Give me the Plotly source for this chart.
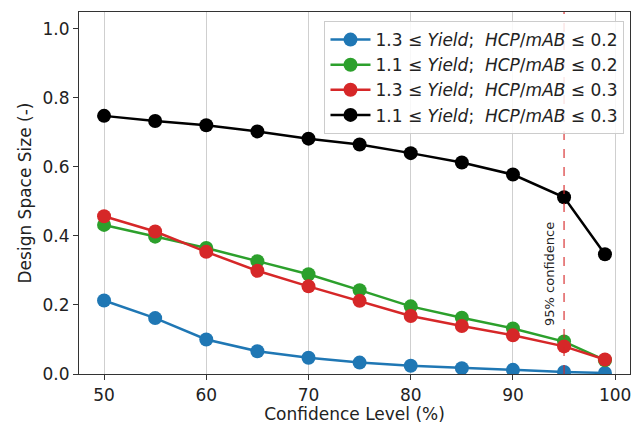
import plotly.graph_objects as go

confidence = [50, 55, 60, 65, 70, 75, 80, 85, 90, 95, 99]
blue_vals = [0.213, 0.162, 0.100, 0.066, 0.047, 0.033, 0.024, 0.017, 0.012, 0.006, 0.003]
green_vals = [0.432, 0.398, 0.365, 0.327, 0.289, 0.243, 0.196, 0.163, 0.132, 0.094, 0.040]
red_vals = [0.457, 0.413, 0.354, 0.299, 0.254, 0.212, 0.168, 0.139, 0.112, 0.080, 0.042]
black_vals = [0.748, 0.733, 0.721, 0.703, 0.682, 0.665, 0.640, 0.613, 0.578, 0.512, 0.347]
labels = [
    "1.3 ≤ <i>Yield</i>;  <i>HCP</i>/<i>mAB</i> ≤ 0.2",
    "1.1 ≤ <i>Yield</i>;  <i>HCP</i>/<i>mAB</i> ≤ 0.2",
    "1.3 ≤ <i>Yield</i>;  <i>HCP</i>/<i>mAB</i> ≤ 0.3",
    "1.1 ≤ <i>Yield</i>;  <i>HCP</i>/<i>mAB</i> ≤ 0.3",
]
colors = ["#1f77b4", "#2ca02c", "#d62728", "#000000"]
vline_x = 95
vline_label = "95% confidence"

fig = go.Figure()
for vals, lab, col in zip([blue_vals, green_vals, red_vals, black_vals], labels, colors):
    fig.add_trace(go.Scatter(
        x=confidence, y=vals, name=lab, mode="lines+markers",
        line=dict(color=col, width=2.5),
        marker=dict(color=col, size=14),
    ))

fig.add_vline(x=vline_x, line=dict(color="rgba(214,39,40,0.75)", width=1.5, dash="dash"))
fig.add_annotation(x=vline_x, y=0.29, xref="x", yref="y", text=vline_label,
                   textangle=-90, showarrow=False, xshift=-14,
                   font=dict(size=13, color="#222"))

axis_common = dict(
    showline=True, linecolor="#333", linewidth=1.2, mirror=True,
    ticks="outside", ticklen=5, tickcolor="#333", tickwidth=1.2,
    tickfont=dict(size=17, color="#222"), zeroline=False,
)
fig.update_xaxes(range=[47.55, 101.45], tickvals=[50, 60, 70, 80, 90, 100],
                 showgrid=True, gridcolor="#cfcfcf", gridwidth=1,
                 title=dict(text="Confidence Level (%)", font=dict(size=17, color="#222"), standoff=4),
                 **axis_common)
fig.update_yaxes(range=[0, 1.049], tickvals=[0, 0.2, 0.4, 0.6, 0.8, 1.0], tickformat=".1f",
                 showgrid=False,
                 title=dict(text="Design Space Size (-)", font=dict(size=17, color="#222"), standoff=6),
                 **axis_common)

fig.update_layout(
    width=644, height=431,
    margin=dict(l=79, r=14, t=11, b=54),
    plot_bgcolor="white", paper_bgcolor="white",
    font=dict(family="DejaVu Sans", color="#222"),
    legend=dict(x=0.99, y=0.975, xanchor="right", yanchor="top",
                bgcolor="rgba(255,255,255,0.85)", bordercolor="#cccccc", borderwidth=1,
                font=dict(size=17, color="#222"), itemwidth=40, tracegroupgap=0),
    showlegend=True,
)

fig.write_html("out.html")
